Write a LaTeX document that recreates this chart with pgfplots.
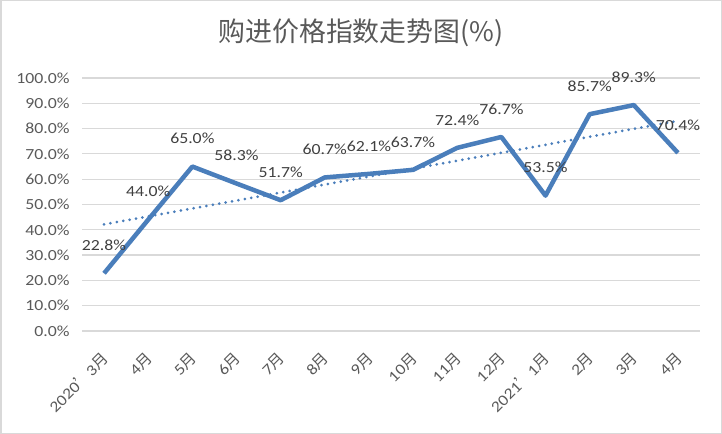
\documentclass[border=0pt]{standalone}
\usepackage{fontspec}
\setmainfont{Carlito}[FakeStretch=1.15]
\newfontfamily\cjk{Noto Sans CJK SC}
\usepackage{pgfplots}
\pgfplotsset{compat=1.18}
\definecolor{lineblue}{HTML}{4A7EBB}
\definecolor{gridgray}{HTML}{D9D9D9}
\definecolor{txtgray}{HTML}{595959}
\definecolor{lblgray}{HTML}{404040}
\newcommand{\yue}{{\cjk 月}}

\begin{document}
\begin{tikzpicture}
  \useasboundingbox (0bp,0bp) rectangle (722bp,434bp);
  \draw[gridgray, line width=1.5bp] (0.75bp,0.75bp) rectangle (721.25bp,433.25bp);
  \node[text=txtgray, font=\cjk\fontsize{27}{30}\selectfont] at (361bp,401bp) {购进价格指数走势图(\%)};

  \begin{axis}[
      at={(82bp,103bp)}, anchor=south west,
      scale only axis, width=618bp, height=253bp,
      xmin=-0.5, xmax=13.5, ymin=0, ymax=100,
      xtick={0,...,13},
      xticklabels={2020{\cjk ’}3\yue, 4\yue, 5\yue, 6\yue, 7\yue, 8\yue, 9\yue,
        10\yue, 11\yue, 12\yue, 2021{\cjk ’}1\yue, 2\yue, 3\yue, 4\yue},
      ytick={0,10,...,100},
      yticklabel={\pgfmathprintnumber[fixed,fixed zerofill,precision=1]{\tick}\%},
      /pgf/number format/assume math mode=true,
      ymajorgrids,
      grid style={gridgray, line width=1.2bp},
      axis line style={draw=none},
      major tick length=0pt,
      tick label style={font=\fontsize{15.5}{18}\selectfont, text=txtgray},
      yticklabel style={anchor=east, xshift=-9bp},
      xticklabel style={yshift=-24bp, xshift=2bp, rotate=45, anchor=east, inner sep=1bp},
      clip=false,
    ]

    % linear trend
    \addplot[lineblue, line width=3bp, line cap=round, dash pattern=on 0bp off 6.5bp]
      coordinates {(0,42.14) (13,83.04)};

    \addplot[lineblue, line width=4.5bp, line join=round,
      nodes near coords={\pgfmathprintnumber[fixed,fixed zerofill,precision=1]{\pgfplotspointmeta}\%},
      every node near coord/.style={anchor=center, yshift=28bp,
        font=\fontsize{15.5}{18}\selectfont, text=lblgray}]
      coordinates {
        (0,22.8) (1,44.0) (2,65.0) (3,58.3) (4,51.7) (5,60.7) (6,62.1)
        (7,63.7) (8,72.4) (9,76.7) (10,53.5) (11,85.7) (12,89.3) (13,70.4)
      };
  \end{axis}
\end{tikzpicture}
\end{document}
